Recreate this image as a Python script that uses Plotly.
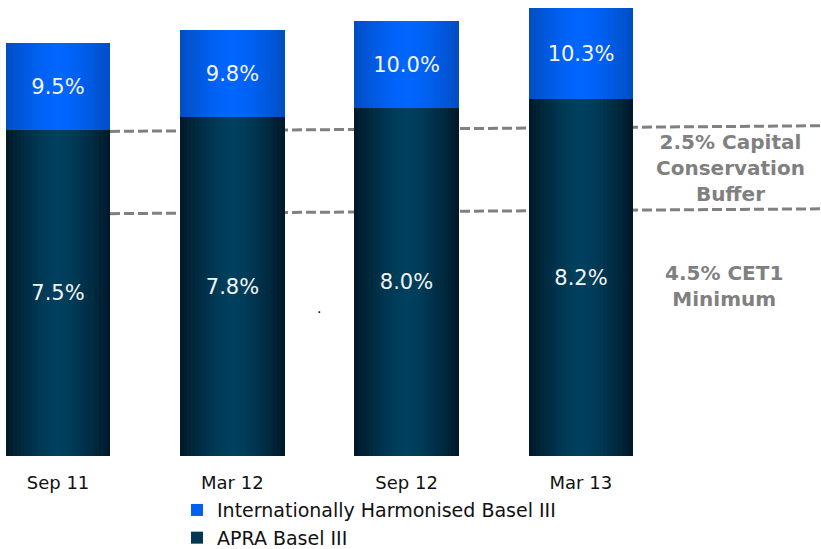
import plotly.graph_objects as go

categories = ["Sep 11", "Mar 12", "Sep 12", "Mar 13"]
apra = [7.5, 7.8, 8.0, 8.2]
intl_total = [9.5, 9.8, 10.0, 10.3]
intl_extra = [round(t - a, 2) for t, a in zip(intl_total, apra)]
apra_labels = [f"{v:.1f}%" for v in apra]
intl_labels = [f"{v:.1f}%" for v in intl_total]

BAR_W = 0.6
N_LAYERS = 14

def lerp(c1, c2, t):
    return "rgb({},{},{})".format(*[round(a + (b - a) * t) for a, b in zip(c1, c2)])

dark_edge, dark_mid = (0, 26, 42), (0, 64, 94)
blue_edge, blue_mid = (0, 78, 196), (0, 102, 255)

fig = go.Figure()

# gradient layers (outer to inner)
for k in range(N_LAYERS):
    frac = 1 - k / N_LAYERS
    t = frac ** 1.6
    w = BAR_W * frac
    fig.add_bar(x=categories, y=apra, width=w, marker_color=lerp(dark_mid, dark_edge, t),
                marker_line_width=0, showlegend=False, hoverinfo="skip")
    fig.add_bar(x=categories, y=intl_extra, base=apra, width=w,
                marker_color=lerp(blue_mid, blue_edge, t),
                marker_line_width=0, showlegend=False, hoverinfo="skip")

# legend entries
fig.add_bar(x=categories, y=[0] * 4, width=0, name="Internationally Harmonised Basel III",
            marker_color="rgb(0,96,240)", marker_line_width=0, legendrank=1, hoverinfo="skip")
fig.add_bar(x=categories, y=[0] * 4, width=0, name="APRA Basel III",
            marker_color="rgb(0,56,84)", marker_line_width=0, legendrank=2, hoverinfo="skip")

# label layers
label_font = dict(color="#f4f4f4", size=21, family="DejaVu Sans")
fig.add_bar(x=categories, y=apra, width=BAR_W, marker_color="rgba(0,0,0,0)",
            marker_line_width=0,
            text=apra_labels, textposition="inside", insidetextanchor="middle",
            textangle=0, constraintext="none", textfont=label_font,
            showlegend=False, hoverinfo="skip")
fig.add_bar(x=categories, y=intl_extra, base=apra, width=BAR_W, marker_color="rgba(0,0,0,0)",
            marker_line_width=0,
            text=intl_labels, textposition="inside", insidetextanchor="middle",
            textangle=0, constraintext="none", textfont=label_font,
            showlegend=False, hoverinfo="skip")

dash_style = dict(color="#808080", width=3, dash="10px,4px")
fig.add_shape(type="line", xref="paper", yref="y", x0=110 / 821, x1=1.0, y0=7.46, y1=7.59,
              line=dash_style, layer="below")
fig.add_shape(type="line", xref="paper", yref="y", x0=110 / 821, x1=1.0, y0=5.57, y1=5.68,
              line=dash_style, layer="below")

ann_font = dict(family="DejaVu Sans", size=20, color="#808080")
fig.add_annotation(xref="paper", yref="y", x=730 / 821, y=6.61, xanchor="center",
                   text="<b>2.5% Capital<br>Conservation<br>Buffer</b>",
                   showarrow=False, font=ann_font, align="center")
fig.add_annotation(xref="paper", yref="y", x=724 / 821, y=3.9, xanchor="center",
                   text="<b>4.5% CET1<br>Minimum</b>",
                   showarrow=False, font=ann_font, align="center")
fig.add_annotation(xref="paper", yref="y", x=319 / 821, y=3.4, text=".",
                   showarrow=False, font=dict(family="DejaVu Sans", size=14, color="black"))

fig.update_layout(
    width=821, height=549,
    margin=dict(l=0, r=0, t=0, b=93, autoexpand=False),
    barmode="overlay",
    bargap=0,
    plot_bgcolor="white", paper_bgcolor="white",
    font=dict(family="DejaVu Sans", color="#111111"),
    xaxis=dict(range=[-0.333, 4.378], showgrid=False, zeroline=False, showline=False,
               ticks="", tickfont=dict(size=18, color="#111111"), ticklabelstandoff=14),
    yaxis=dict(range=[0, 10.48], visible=False),
    legend=dict(orientation="v", x=177 / 821, xanchor="left", y=-0.077, yanchor="top",
                font=dict(size=19, family="DejaVu Sans", color="#111111"),
                bgcolor="rgba(0,0,0,0)", itemsizing="constant", tracegroupgap=0),
)

fig.write_html("out.html")
